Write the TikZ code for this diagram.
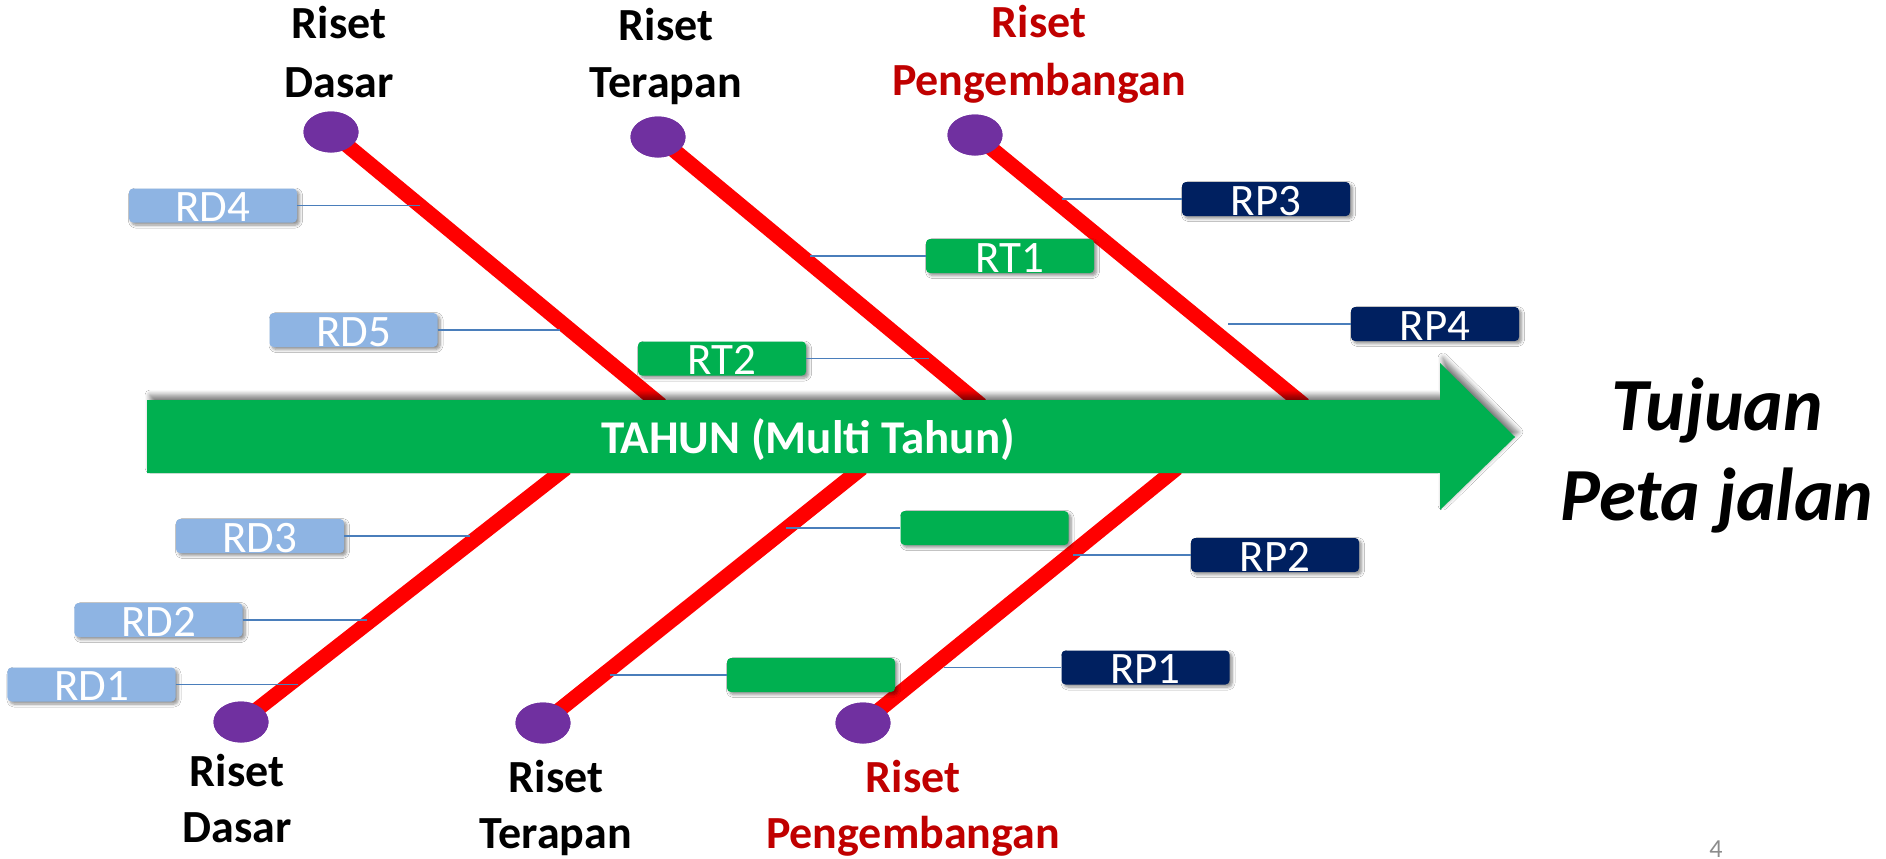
\documentclass[tikz,border=0pt]{standalone}
\usepackage{fontspec}
\setmainfont{Carlito}
\usetikzlibrary{shapes.geometric,shadows.blur}
\definecolor{bargreen}{HTML}{00B050}
\definecolor{lblue}{HTML}{8EB4E3}
\definecolor{navy}{HTML}{002060}
\definecolor{purp}{HTML}{7030A0}
\definecolor{dred}{HTML}{C00000}
\definecolor{conblue}{HTML}{4A7EBB}
\definecolor{pgnum}{HTML}{8C8C8C}
\begin{document}
\begin{tikzpicture}[x=1bp,y=-1bp,
  tagbox/.style={rounded corners=4bp, minimum width=168bp, minimum height=34bp,
    inner sep=0pt, text=white, text height=32bp, text depth=0bp,
    font=\fontsize{45bp}{45bp}\selectfont,
    blur shadow={shadow xshift=2.5bp, shadow yshift=-2.5bp, shadow blur steps=6,
      shadow opacity=45, shadow blur radius=3bp}},
  rdbox/.style={tagbox, fill=lblue},
  rtbox/.style={tagbox, fill=bargreen},
  rpbox/.style={tagbox, fill=navy},
  dot/.style={ellipse, fill=purp, minimum width=55bp, minimum height=41bp, inner sep=0pt},
  bone/.style={draw=red, line width=15bp},
  twig/.style={draw=conblue, line width=1.8bp},
  cat/.style={anchor=base, inner sep=0pt, font=\fontsize{46bp}{57bp}\selectfont\bfseries},
  goal/.style={anchor=base, inner sep=0pt, font=\fontsize{75bp}{90bp}\selectfont\bfseries\itshape},
]
\useasboundingbox (0,0) rectangle (1886,859);
\fill[white] (0,0) rectangle (1886,859);

% end points of the bones on the bar
\coordinate (eRDt) at (661,405);
\coordinate (eRTt) at (981,405);
\coordinate (eRPt) at (1304,405);
\coordinate (eRDb) at (566,468);
\coordinate (eRTb) at (862,468);
\coordinate (eRPb) at (1177,468);

% purple ends
\node[dot] (cRDt) at (331,132) {};
\node[dot] (cRTt) at (658,137) {};
\node[dot] (cRPt) at (975,135) {};
\node[dot] (cRDb) at (241,722) {};
\node[dot] (cRTb) at (543,723) {};
\node[dot] (cRPb) at (863,723) {};

% bones
\draw[bone] (cRDt.center) -- (eRDt);
\draw[bone] (cRTt.center) -- (eRTt);
\draw[bone] (cRPt.center) -- (eRPt);
\draw[bone] (cRDb.center) -- (eRDb);
\draw[bone] (cRTb.center) -- (eRTb);
\draw[bone] (cRPb.center) -- (eRPb);

% redraw the dots above the bones
\node[dot] at (cRDt) {};
\node[dot] at (cRTt) {};
\node[dot] at (cRPt) {};
\node[dot] at (cRDb) {};
\node[dot] at (cRTb) {};
\node[dot] at (cRPb) {};

% main arrow
\fill[bargreen, blur shadow={shadow xshift=3bp, shadow yshift=5bp, shadow blur steps=8,
      shadow opacity=50, shadow blur radius=5bp}]
  (147,400) -- (1440,400) -- (1440,363) -- (1515,437) -- (1440,510) -- (1440,473) -- (147,473) -- cycle;
\node[anchor=base, inner sep=0pt, text=white, font=\fontsize{47bp}{47bp}\selectfont\bfseries]
  (tahun) at (808,453) {TAHUN (Multi Tahun)};

% boxes
\node[rdbox] (bRD4) at (213,205.5) {RD4};
\node[rdbox] (bRD5) at (353.5,330) {RD5};
\node[rtbox] (bRT1) at (1010,256) {RT1};
\node[rtbox] (bRT2) at (722,358.5) {RT2};
\node[rpbox] (bRP3) at (1266,199) {RP3};
\node[rpbox] (bRP4) at (1435,324) {RP4};
\node[rdbox] (bRD3) at (260,536) {RD3};
\node[rdbox] (bRD2) at (158.5,620) {RD2};
\node[rdbox] (bRD1) at (91.5,684.5) {RD1};
\node[rtbox] (bG1) at (984.5,528) {};
\node[rpbox] (bRP2) at (1275,555) {RP2};
\node[rtbox] (bG2) at (811,675) {};
\node[rpbox] (bRP1) at (1145.5,667.5) {RP1};

% twig points
\coordinate (jRD4) at (420,205.5);
\coordinate (jRD5) at (560,330);
\coordinate (jRT1) at (810,256);
\coordinate (jRT2) at (929,358.5);
\coordinate (jRP3) at (1062,199);
\coordinate (jRP4) at (1228,324);
\coordinate (jRD3) at (470,536);
\coordinate (jRD2) at (367,620);
\coordinate (jRD1) at (298,684.5);
\coordinate (jG1) at (786,528);
\coordinate (jRP2) at (1073,555);
\coordinate (jG2) at (610,675);
\coordinate (jRP1) at (944,667.5);

\draw[twig] (bRD4.east) -- (jRD4);
\draw[twig] (bRD5.east) -- (jRD5);
\draw[twig] (bRT1.west) -- (jRT1);
\draw[twig] (bRT2.east) -- (jRT2);
\draw[twig] (bRP3.west) -- (jRP3);
\draw[twig] (bRP4.west) -- (jRP4);
\draw[twig] (bRD3.east) -- (jRD3);
\draw[twig] (bRD2.east) -- (jRD2);
\draw[twig] (bRD1.east) -- (jRD1);
\draw[twig] (bG1.west) -- (jG1);
\draw[twig] (bRP2.west) -- (jRP2);
\draw[twig] (bG2.west) -- (jG2);
\draw[twig] (bRP1.west) -- (jRP1);

% category labels
\node[cat] (tRDa) at (339,38) {Riset};
\node[cat] (tRDb) at (339,97) {Dasar};
\node[cat] (tRTa) at (666,40) {Riset};
\node[cat] (tRTb) at (666,97) {Terapan};
\node[cat, text=dred] (tRPa) at (1039,37) {Riset};
\node[cat, text=dred] (tRPb) at (1039,95) {Pengembangan};
\node[cat] (uRDa) at (237,786) {Riset};
\node[cat] (uRDb) at (237,842) {Dasar};
\node[cat] (uRTa) at (556,792) {Riset};
\node[cat] (uRTb) at (556,848) {Terapan};
\node[cat, text=dred] (uRPa) at (913,792) {Riset};
\node[cat, text=dred] (uRPb) at (913,848) {Pengembangan};

% goal
\node[goal] (goalA) at (1717,430) {Tujuan};
\node[goal] (goalB) at (1717,520) {Peta jalan};

% page number
\node[anchor=base, inner sep=0pt, text=pgnum, font=\fontsize{26bp}{26bp}\selectfont] (pg) at (1716,857) {4};
\end{tikzpicture}
\end{document}
